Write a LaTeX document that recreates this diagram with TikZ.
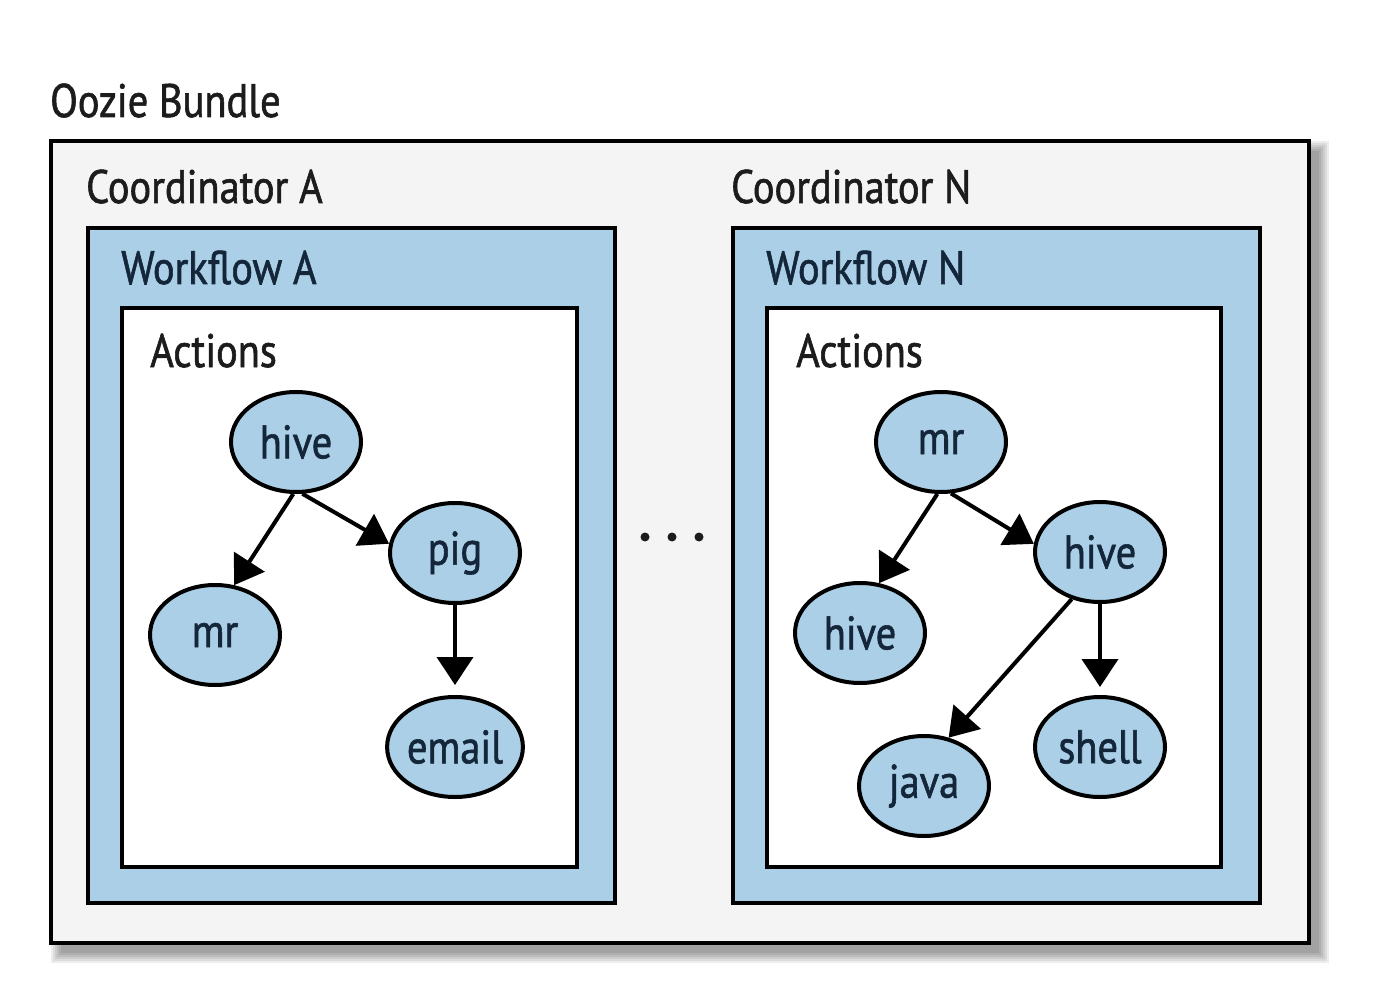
\documentclass[tikz,border=0pt]{standalone}
\usepackage{fontspec}
\setmainfont{PT Sans}
\newfontfamily\medfont{PT Sans}[FakeStretch=0.86,FakeBold=1.2]
\usetikzlibrary{shapes.geometric,arrows.meta}
\definecolor{wfblue}{HTML}{AACFE6}
\definecolor{bundlegray}{HTML}{F4F4F4}
\definecolor{ink}{HTML}{1C1C1C}
\definecolor{wfink}{HTML}{14263A}
\begin{document}
\begin{tikzpicture}[x=1pt,y=-1pt,
 bigtext/.style={font=\medfont\fontsize{47}{56}\selectfont, text=ink, anchor=base west, inner sep=0},
 box/.style={draw=black, line width=4pt, anchor=north west, inner sep=0},
 act/.style={ellipse, draw=black, line width=4pt, fill=wfblue, minimum width=130pt, minimum height=100pt, inner sep=0, font=\medfont\fontsize{47}{56}\selectfont, text=wfink},
 flow/.style={line width=4pt, -{Triangle[length=28pt,width=36pt]}}
]
\useasboundingbox (0,0) rectangle (1387,992);
\fill[white] (0,0) rectangle (1387,992);
% blurred shadow of the bundle box
\foreach \s in {0,2,...,10} {
  \fill[black, opacity=0.07] (61-\s,151-\s) rectangle (1319+\s,953+\s);
}
\node[box, fill=bundlegray, minimum width=1258pt, minimum height=802pt] (bundle) at (49,139) {};
\node[bigtext] (title) at (50,117) {Oozie Bundle};
\node[bigtext] (coordA) at (86,203) {Coordinator A};
\node[bigtext] (coordN) at (731,203) {Coordinator N};
% workflow boxes
\node[box, fill=wfblue, minimum width=527pt, minimum height=675pt] (wfA) at (86,226) {};
\node[box, fill=white, minimum width=455pt, minimum height=559pt] (actA) at (120,306) {};
\node[box, fill=wfblue, minimum width=527pt, minimum height=675pt] (wfN) at (731,226) {};
\node[box, fill=white, minimum width=454pt, minimum height=559pt] (actN) at (765,306) {};
\node[bigtext, text=wfink] (wfAlabel) at (121,284) {Workflow A};
\node[bigtext] (actAlabel) at (150,367) {Actions};
\node[bigtext, text=wfink] (wfNlabel) at (766,284) {Workflow N};
\node[bigtext] (actNlabel) at (796,367) {Actions};
% dots
\fill[ink] (645,537) circle (4.5);
\fill[ink] (672,537) circle (4.5);
\fill[ink] (699,537) circle (4.5);
% actions A
\node[act] (hiveA) at (296,442) {hive};
\node[act] (pigA) at (455,553) {pig};
\node[act] (mrA) at (215,635) {mr};
\node[act] (emailA) at (455,747) {email};
\draw[flow] (hiveA.267) -- (mrA.69);
\draw[flow] (hiveA.277) -- (pigA.172);
\draw[flow, shorten >=10pt] (pigA.south) -- (emailA.north);
% actions N
\node[act] (mrN) at (941,442) {mr};
\node[act] (hiveN) at (1100,552) {hive};
\node[act] (hiveN2) at (860,633) {hive};
\node[act] (shellN) at (1100,747) {shell};
\node[act] (javaN) at (924,786) {java};
\draw[flow] (mrN.266) -- (hiveN2.69);
\draw[flow] (mrN.281) -- (hiveN.173);
\draw[flow] (hiveN.239) -- (javaN.63);
\draw[flow, shorten >=8pt] (hiveN.south) -- (shellN.north);
\end{tikzpicture}
\end{document}
